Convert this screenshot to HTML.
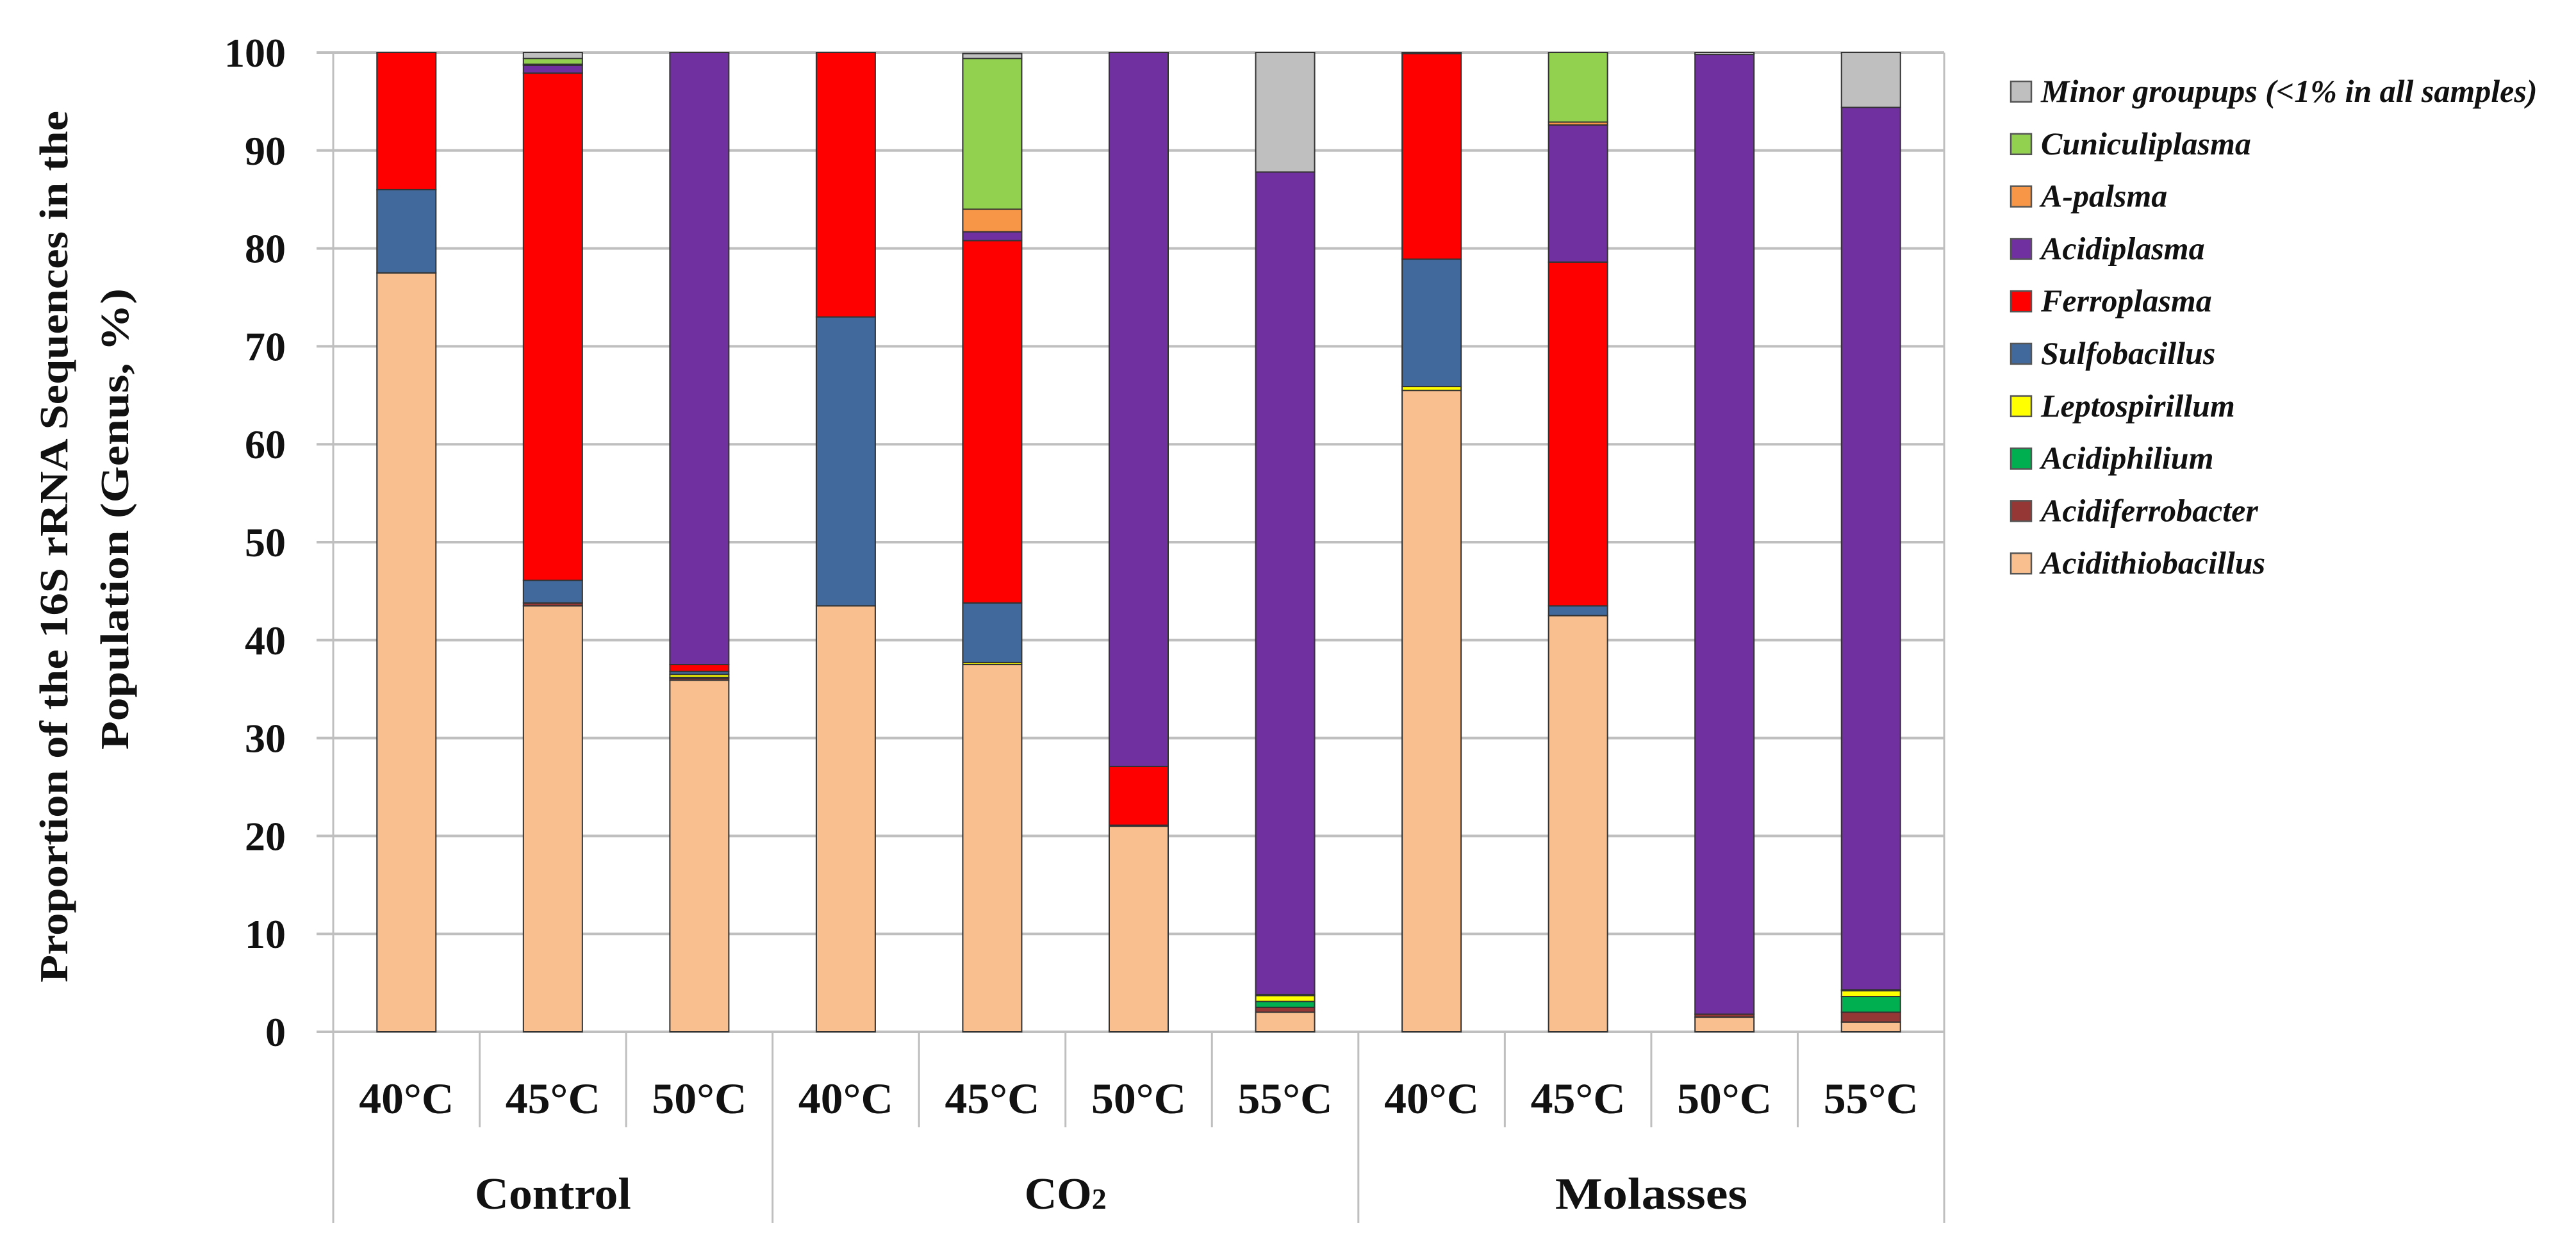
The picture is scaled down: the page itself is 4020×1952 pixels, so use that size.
<!DOCTYPE html>
<html><head><meta charset="utf-8"><style>
html,body{margin:0;padding:0;background:#fff;}
svg{display:block;}
text{font-family:"Liberation Serif",serif;}
</style></head><body>
<svg id="chart" width="4020" height="1952" viewBox="0 0 4020 1952" xmlns="http://www.w3.org/2000/svg">
<g id="grid"></g><g id="bars"></g><g id="axes"></g><g id="legend"></g>
<g font-weight="bold" font-size="62" fill="#111">
<text transform="translate(105,853) rotate(-90)" text-anchor="middle" textLength="1360" lengthAdjust="spacingAndGlyphs">Proportion of the 16S rRNA Sequences in the</text>
<text transform="translate(200,810) rotate(-90)" text-anchor="middle" textLength="720" lengthAdjust="spacingAndGlyphs">Population (Genus, %)</text>
</g>
</svg>
<script>
const categories = ["40°C","45°C","50°C","40°C","45°C","50°C","55°C","40°C","45°C","50°C","55°C"];
const groups = ["Control","CO2","Molasses"];
const groupSizes = [3,4,4];
const seriesNames = ["Acidithiobacillus","Acidiferrobacter","Acidiphilium","Leptospirillum","Sulfobacillus","Ferroplasma","Acidiplasma","A-palsma","Cuniculiplasma","Minor groupups (<1% in all samples)"];
const seriesColors = ["#f9bf8f","#953735","#00b050","#ffff00","#41699b","#ff0000","#7030a0","#f79646","#92d050","#bfbfbf"];
const acidithiobacillus = [77.5,43.5,35.9,43.5,37.5,21.0,2.0,65.5,42.5,1.5,1.0];
const acidiferrobacter  = [0,0.3,0.2,0,0,0.1,0.5,0,0,0.3,1.0];
const acidiphilium      = [0,0,0.1,0,0,0,0.6,0,0,0,1.6];
const leptospirillum    = [0,0,0.3,0,0.2,0,0.6,0.4,0,0,0.6];
const sulfobacillus     = [8.5,2.3,0.3,29.5,6.1,0,0.1,13.0,1.0,0,0.1];
const ferroplasma       = [14.0,51.8,0.7,27.0,37.0,6.0,0,21.0,35.1,0,0];
const acidiplasma       = [0,0.8,62.5,0,0.9,72.9,84.0,0.1,14.0,98.0,90.1];
const apalsma           = [0,0.1,0,0,2.3,0,0,0,0.3,0,0];
const cuniculiplasma    = [0,0.6,0,0,15.4,0,0,0,7.1,0,0];
const minorGroups       = [0,0.6,0,0,0.5,0,12.2,0,0,0.2,5.6];
const yTicks = [0,10,20,30,40,50,60,70,80,90,100];

const series = [acidithiobacillus,acidiferrobacter,acidiphilium,leptospirillum,sulfobacillus,ferroplasma,acidiplasma,apalsma,cuniculiplasma,minorGroups];
const NS="http://www.w3.org/2000/svg";
const X0=520, X1=3034, Y0=1610, Y1=82;
const catW=(X1-X0)/categories.length, barW=92;
const y=v=>Y0-(v/100)*(Y0-Y1);
const xc=i=>X0+catW*(i+0.5);
function mk(tag,attrs,parent){const e=document.createElementNS(NS,tag);for(const k in attrs)e.setAttribute(k,attrs[k]);parent.appendChild(e);return e;}
const grid=document.getElementById('grid'), bars=document.getElementById('bars'), axes=document.getElementById('axes'), legend=document.getElementById('legend');

yTicks.forEach(t=>{
  const l=mk('line',{x1:494,x2:X1,y1:y(t),y2:y(t),stroke:'#bfbfbf','stroke-width':4},grid);
  
  
  const tx=mk('text',{x:446,y:y(t)+22,'text-anchor':'end','font-size':64,'font-weight':'bold',fill:'#111'},axes);
  tx.textContent=t;
  
  
});

categories.forEach((c,i)=>{
  let acc=0;
  series.forEach((s,k)=>{
    const v=s[i]; if(v<=0) return;
    const r=mk('rect',{x:xc(i)-barW/2,y:y(acc+v),width:barW,height:y(acc)-y(acc+v),fill:seriesColors[k],stroke:'#333','stroke-width':2},bars);
    
    
    acc+=v;
  });
  const t=mk('text',{x:xc(i),y:1737,'text-anchor':'middle','font-size':68,'font-weight':'bold',fill:'#111',textLength:148,lengthAdjust:'spacingAndGlyphs'},axes);
  t.textContent=c;
  
  
});

let l=mk('line',{x1:X0,x2:X0,y1:Y1,y2:1908,stroke:'#bfbfbf','stroke-width':3},axes);


l=mk('line',{x1:X1,x2:X1,y1:Y1,y2:1908,stroke:'#bfbfbf','stroke-width':3},axes);


let idx=0;
groups.forEach((g,gi)=>{
  const n=groupSizes[gi];
  for(let j=1;j<n;j++){
    const sx=X0+catW*(idx+j);
    const s=mk('line',{x1:sx,x2:sx,y1:Y0,y2:1759,stroke:'#bfbfbf','stroke-width':3},axes);
    
    
  }
  const ex=X0+catW*(idx+n);
  if(gi<groups.length-1){
    const s=mk('line',{x1:ex,x2:ex,y1:Y0,y2:1908,stroke:'#bfbfbf','stroke-width':3},axes);
    
    
  }
  const cx=X0+catW*(idx+n/2);
  const t=mk('text',{x:cx,y:1886,'text-anchor':'middle','font-size':70,'font-weight':'bold',fill:'#111'},axes);
  if(g==='CO2'){t.textContent='CO';const sub=mk('tspan',{'font-size':46},t);sub.textContent='2';}
  else{t.textContent=g;t.setAttribute('textLength',g==='Control'?244:300);t.setAttribute('lengthAdjust','spacingAndGlyphs');}
  
  
  idx+=n;
});

for(let k=seriesNames.length-1,row=0;k>=0;k--,row++){
  const cy=143+row*81.8;
  const g=mk('g',{},legend);
  
  
  mk('rect',{x:3138,y:cy-16,width:32,height:32,fill:seriesColors[k],stroke:'#555','stroke-width':2.5},g);
  const t=mk('text',{x:3185,y:cy+16,'font-size':50,'font-style':'italic','font-weight':'bold',fill:'#111'},g);
  t.textContent=seriesNames[k];
}
</script>
</body></html>
